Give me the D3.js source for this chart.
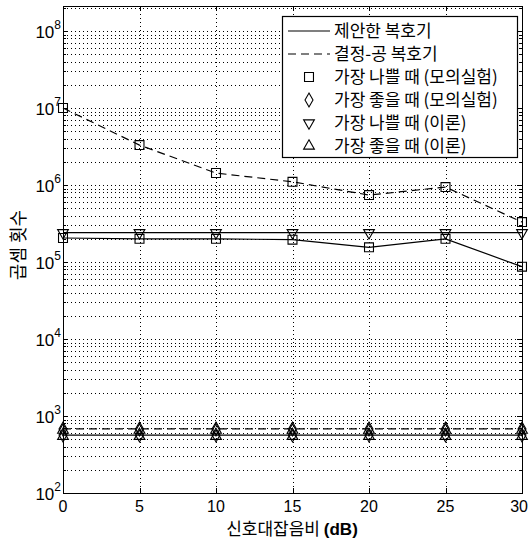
<!DOCTYPE html>
<html>
<head>
<meta charset="utf-8">
<script src="https://cdn.jsdelivr.net/npm/d3@7"></script>
<style>
    body { margin: 0; background: #fff; }
    svg { display: block; }
    .lbl { font-family: "Liberation Sans", Arial, sans-serif; fill: #000; }
    .kr { font-family: "Noto Sans CJK KR", sans-serif; fill: #000; }
</style>
</head>
<body>
<div class="chart"></div>
<script>
/* Multiplication count vs SNR */

var snr = [0, 5, 10, 15, 20, 25, 30];
var xTicks = [0, 5, 10, 15, 20, 25, 30];
var yDecades = [2, 3, 4, 5, 6, 7, 8];

// proposed decoder (solid)
var propWorstSim = [2.05e5, 2.0e5, 2.0e5, 1.95e5, 1.55e5, 2.0e5, 8.7e4];
var propWorstTheory = [2.4e5, 2.4e5, 2.4e5, 2.4e5, 2.4e5, 2.4e5, 2.4e5];
var propBestSim = [565, 565, 565, 565, 565, 565, 565];
var propBestTheory = [545, 545, 545, 545, 545, 545, 545];

// decision decoder (dashed)
var decWorstSim = [1.0e7, 3.3e6, 1.43e6, 1.1e6, 7.4e5, 9.4e5, 3.3e5];
var decBestSim = [680, 680, 680, 680, 680, 680, 680];
var decBestTheory = [655, 655, 655, 655, 655, 655, 655];

var legendLabels = ["제안한 복호기", "결정-공 복호기", "가장 나쁠 때 (모의실험)",
    "가장 좋을 때 (모의실험)", "가장 나쁠 때 (이론)", "가장 좋을 때 (이론)"];

var W = 529, H = 543;
var pLeft = 63, pRight = 522, pTop = 6, pBottom = 493;

var svg = d3.select(".chart").append("svg")
    .attr("width", W)
    .attr("height", H);

var x = d3.scaleLinear().domain([0, 30]).range([pLeft, pRight]);
var y = d3.scaleLog().domain([1e2, Math.pow(10, 2 + (pBottom - pTop) / 77)]).range([pBottom, pTop]);

// grid
var grid = svg.append("g").attr("stroke", "#000").attr("stroke-width", 1)
    .attr("stroke-dasharray", "1,3").attr("shape-rendering", "crispEdges");

xTicks.slice(1, -1).forEach(function (t) {
    grid.append("line").attr("x1", Math.round(x(t)) + 0.5).attr("x2", Math.round(x(t)) + 0.5)
        .attr("y1", pTop).attr("y2", pBottom);
});

var gridVals = [];
yDecades.forEach(function (d) {
    for (var m = 1; m < 10; m++) {
        var v = m * Math.pow(10, d);
        if (v > 1e2 && y(v) > pTop + 1) gridVals.push({ v: v, major: m === 1 });
    }
});
gridVals.forEach(function (g) {
    var yy = Math.round(y(g.v)) + 0.5;
    grid.append("line").attr("x1", pLeft).attr("x2", pRight).attr("y1", yy).attr("y2", yy);
});

// ticks
var ticks = svg.append("g").attr("stroke", "#000").attr("stroke-width", 1).attr("shape-rendering", "crispEdges");
xTicks.forEach(function (t) {
    var xx = Math.round(x(t)) + 0.5;
    ticks.append("line").attr("x1", xx).attr("x2", xx).attr("y1", pBottom).attr("y2", pBottom - 5);
    ticks.append("line").attr("x1", xx).attr("x2", xx).attr("y1", pTop).attr("y2", pTop + 5);
});
gridVals.forEach(function (g) {
    var yy = Math.round(y(g.v)) + 0.5;
    var len = g.major ? 5 : 3;
    ticks.append("line").attr("x1", pLeft).attr("x2", pLeft + len).attr("y1", yy).attr("y2", yy);
    ticks.append("line").attr("x1", pRight).attr("x2", pRight - len).attr("y1", yy).attr("y2", yy);
});

// series
var lineGen = d3.line()
    .x(function (d) { return x(d[0]); })
    .y(function (d) { return y(d[1]); });

function zipSnr(vals) {
    return snr.map(function (s, i) { return [s, vals[i]]; });
}

function drawLine(vals, dashed) {
    svg.append("path")
        .attr("d", lineGen(zipSnr(vals)))
        .attr("fill", "none")
        .attr("stroke", "#000")
        .attr("stroke-width", 1.2)
        .attr("stroke-dasharray", dashed ? "8,5" : null);
}

var sym = {
    square: d3.symbol().type(d3.symbolSquare).size(80),
    diamond: d3.symbol().type(d3.symbolDiamond).size(55),
    tdown: d3.symbol().type(d3.symbolTriangle).size(50),
    tup: d3.symbol().type(d3.symbolTriangle).size(50)
};

function drawMarkers(vals, kind) {
    svg.append("g").selectAll("path")
        .data(zipSnr(vals))
        .enter()
        .append("path")
        .attr("d", sym[kind]())
        .attr("transform", function (d) {
            return "translate(" + x(d[0]) + "," + y(d[1]) + ")" + (kind === "tdown" ? " rotate(180)" : "");
        })
        .attr("fill", "none")
        .attr("stroke", "#000")
        .attr("stroke-width", 1.1);
}

drawLine(propWorstTheory, false);
drawLine(propWorstSim, false);
drawLine(propBestSim, false);
drawLine(decWorstSim, true);
drawLine(decBestSim, true);

drawMarkers(propWorstTheory, "tdown");
drawMarkers(propWorstSim, "square");
drawMarkers(decWorstSim, "square");
drawMarkers(propBestSim, "diamond");
drawMarkers(propBestTheory, "tup");
drawMarkers(decBestSim, "diamond");
drawMarkers(decBestTheory, "tup");

// axes box
svg.append("rect")
    .attr("x", pLeft + 0.5).attr("y", pTop + 0.5)
    .attr("width", pRight - pLeft).attr("height", pBottom - pTop)
    .attr("fill", "none").attr("stroke", "#000").attr("stroke-width", 1.2)
    .attr("shape-rendering", "crispEdges");

// tick labels
xTicks.forEach(function (t, i) {
    var last = i === xTicks.length - 1;
    svg.append("text").attr("class", "lbl")
        .attr("x", last ? W - 1 : x(t)).attr("y", 512)
        .attr("text-anchor", last ? "end" : "middle")
        .attr("font-size", 16)
        .text(t);
});
yDecades.forEach(function (d) {
    var t = svg.append("text").attr("class", "lbl")
        .attr("x", 61).attr("y", y(Math.pow(10, d)) + 7)
        .attr("text-anchor", "end")
        .attr("font-size", 17);
    t.append("tspan").text("10");
    t.append("tspan").attr("dy", -9).attr("font-size", 12).text(d);
});

// axis titles
var xt = svg.append("text").attr("class", "kr")
    .attr("x", 292).attr("y", 535)
    .attr("text-anchor", "middle")
    .attr("font-size", 17);
xt.append("tspan").text("신호대잡음비 ");
xt.append("tspan").attr("class", "lbl").attr("font-weight", "bold").text("(dB)");

svg.append("text").attr("class", "kr")
    .attr("transform", "translate(25,245) rotate(-90)")
    .attr("text-anchor", "middle")
    .attr("font-size", 18)
    .text("곱셈 횟수");

// legend
var lg = svg.append("g");
lg.append("rect")
    .attr("x", 282.5).attr("y", 16.5).attr("width", 235).attr("height", 141)
    .attr("fill", "#fff").attr("stroke", "#000").attr("stroke-width", 1.2);

var rowY = d3.scalePoint().domain(d3.range(legendLabels.length)).range([31, 146]);
var legendKinds = [null, null, "square", "diamond", "tdown", "tup"];

legendLabels.forEach(function (lab, i) {
    var yy = rowY(i);
    if (i < 2) {
        lg.append("line").attr("x1", 288).attr("x2", 330).attr("y1", yy).attr("y2", yy)
            .attr("stroke", "#000").attr("stroke-width", 1.2)
            .attr("stroke-dasharray", i === 1 ? "8,5" : null);
    } else {
        var k = legendKinds[i];
        lg.append("path").attr("d", sym[k]())
            .attr("transform", "translate(309," + yy + ")" + (k === "tdown" ? " rotate(180)" : ""))
            .attr("fill", "none").attr("stroke", "#000").attr("stroke-width", 1.1);
    }
    lg.append("text").attr("class", "kr")
        .attr("x", 334).attr("y", yy + 6)
        .attr("font-size", 17)
        .text(lab);
});
</script>
</body>
</html>
